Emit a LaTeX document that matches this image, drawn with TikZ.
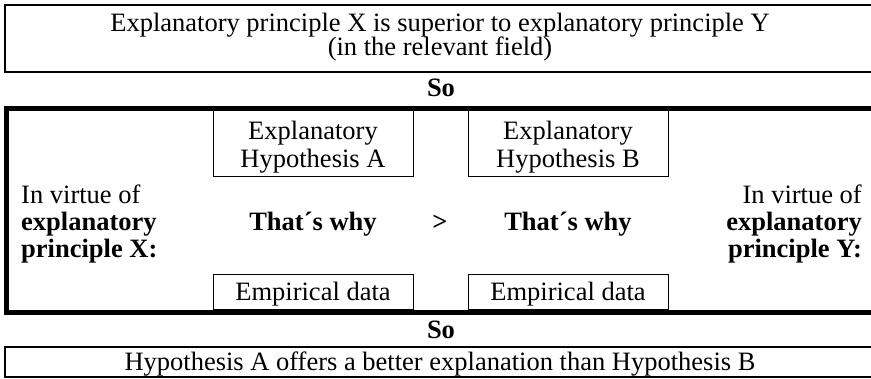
\documentclass[tikz,border=0pt]{standalone}
\usepackage{fontspec}
\setmainfont{Liberation Serif}
\begin{document}
\begin{tikzpicture}[x=1pt,y=-1pt,
  every node/.style={font=\fontsize{26.5}{28}\selectfont, inner sep=0pt},
  txt/.style={anchor=base},
  txtl/.style={anchor=base west},
  txtr/.style={anchor=base east},
  bold/.style={font=\fontsize{26.5}{28}\selectfont\bfseries},
  rowframe/.style={draw, line width=2pt},
  thinrow/.style={draw, line width=1.5pt},
  thickframe/.style={draw, line width=5pt},
  innerbox/.style={draw, line width=1pt}]
\useasboundingbox (0,0) rectangle (871,379);
\clip (0,0) rectangle (871,379);
% frames
\draw[rowframe] (5,5) rectangle (890,72);
\draw[thickframe] (6.5,108.5) rectangle (895,312.5);
\draw[thinrow] (5,347) rectangle (890,377);
\draw[innerbox] (213,111) rectangle (413,177);
\draw[innerbox] (468,111) rectangle (668,177);
\draw[innerbox] (213,275) rectangle (413,310);
\draw[innerbox] (468,275) rectangle (668,310);
% top text
\node[txt] (t1) at (440,31.5) {Explanatory principle X is superior to explanatory principle Y};
\node[txt] (t2) at (440,56) {(in the relevant field)};
\node[txt,bold] (so1) at (441,97) {So};
% hypotheses
\node[txt] (ha1) at (313,140) {Explanatory};
\node[txt] (ha2) at (313,168) {Hypothesis A};
\node[txt] (hb1) at (568,140) {Explanatory};
\node[txt] (hb2) at (568,168) {Hypothesis B};
% left principle
\node[txtl] (lx1) at (21,204) {In virtue of};
\node[txtl,bold] (lx2) at (21,231) {explanatory};
\node[txtl,bold] (lx3) at (21,258) {principle X:};
% right principle
\node[txtr] (ry1) at (862,204) {In virtue of};
\node[txtr,bold] (ry2) at (862,231) {explanatory};
\node[txtr,bold] (ry3) at (862,258) {principle Y:};
% middle
\node[txt,bold] (wa) at (313,231) {That´s why};
\node[txt,bold] (gt) at (440,231) {>};
\node[txt,bold] (wb) at (568,231) {That´s why};
% data
\node[txt] (da) at (313,301) {Empirical data};
\node[txt] (db) at (568,301) {Empirical data};
% bottom
\node[txt,bold] (so2) at (441,339) {So};
\node[txt] (concl) at (440,371) {Hypothesis A offers a better explanation than Hypothesis B};
\end{tikzpicture}
\end{document}
